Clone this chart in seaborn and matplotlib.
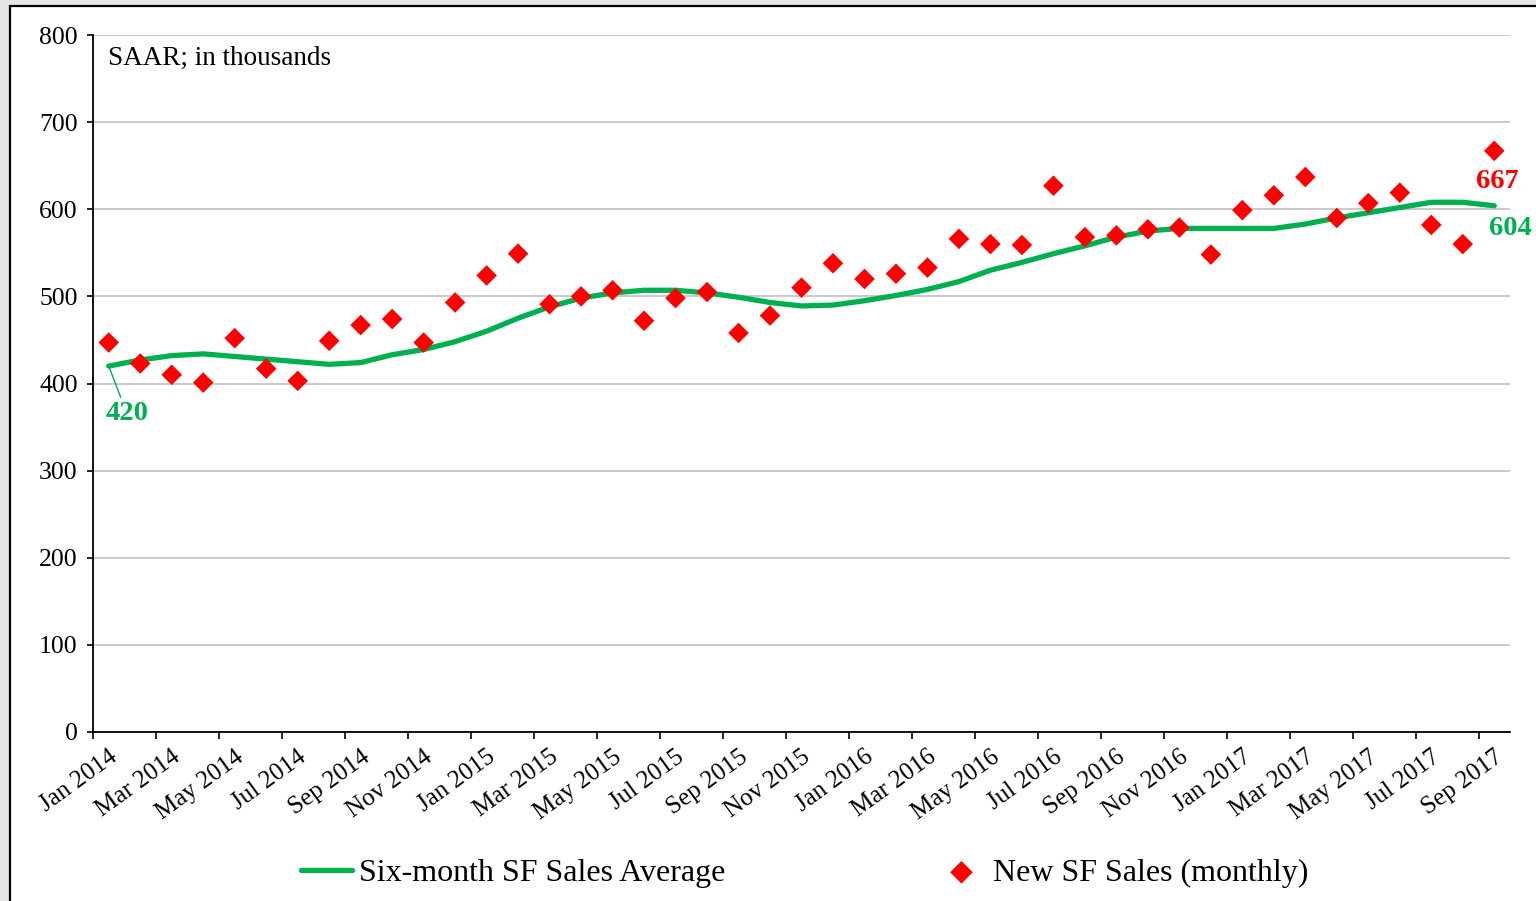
import numpy as np
import pandas as pd
import matplotlib
matplotlib.use("Agg")
import matplotlib.pyplot as plt
import matplotlib.transforms as mtransforms
import seaborn as sns
from matplotlib.patches import Rectangle

month_labels = [
    "Jan 2014", "Feb 2014", "Mar 2014", "Apr 2014", "May 2014", "Jun 2014",
    "Jul 2014", "Aug 2014", "Sep 2014", "Oct 2014", "Nov 2014", "Dec 2014",
    "Jan 2015", "Feb 2015", "Mar 2015", "Apr 2015", "May 2015", "Jun 2015",
    "Jul 2015", "Aug 2015", "Sep 2015", "Oct 2015", "Nov 2015", "Dec 2015",
    "Jan 2016", "Feb 2016", "Mar 2016", "Apr 2016", "May 2016", "Jun 2016",
    "Jul 2016", "Aug 2016", "Sep 2016", "Oct 2016", "Nov 2016", "Dec 2016",
    "Jan 2017", "Feb 2017", "Mar 2017", "Apr 2017", "May 2017", "Jun 2017",
    "Jul 2017", "Aug 2017", "Sep 2017",
]

new_sales = [
    447, 423, 410, 401, 452, 417, 403, 449, 467, 474, 447, 493,
    524, 549, 491, 500, 507, 472, 498, 505, 458, 478, 510, 538,
    520, 526, 533, 566, 560, 559, 627, 568, 570, 577, 579, 548,
    599, 616, 637, 590, 607, 619, 582, 560, 667,
]

six_month_avg = [
    420, 427, 432, 434, 431, 428, 425, 422, 424, 433, 439, 448,
    460, 475, 488, 498, 504, 507, 507, 504, 499, 493, 489, 490,
    495, 501, 508, 517, 530, 539, 549, 558, 568, 575, 578, 578,
    578, 578, 583, 590, 596, 602, 608, 608, 604,
]

y_ticks = [0, 100, 200, 300, 400, 500, 600, 700, 800]

GREEN = "#00B050"
RED = "#FF0000"

sns.set_theme(style="white")
plt.rcParams["font.family"] = ["Liberation Serif", "DejaVu Serif"]
plt.rcParams["text.color"] = "black"
plt.rcParams["xtick.color"] = "black"
plt.rcParams["ytick.color"] = "black"

W, H = 1536, 901
fig = plt.figure(figsize=(W / 100, H / 100), dpi=100, facecolor="#e6e6e6")
fig.patches.append(Rectangle((10 / W, -0.05), 1.2, 1 - 6 / H + 0.05,
                             transform=fig.transFigure, facecolor="white",
                             edgecolor="black", lw=1.6, zorder=-5))

ax = fig.add_axes([93 / W, 1 - 732 / H, (1510 - 93) / W, (732 - 35) / H])
ax.set_zorder(2)
ax.set_facecolor("white")

df = pd.DataFrame({
    "idx": np.arange(len(month_labels)),
    "month": month_labels,
    "avg": six_month_avg,
    "sales": new_sales,
})

sns.lineplot(data=df, x="idx", y="avg", color=GREEN, lw=3.8, ax=ax,
             label="Six-month SF Sales Average", zorder=3)
sns.scatterplot(data=df, x="idx", y="sales", marker="D", s=110, color=RED,
                edgecolor="none", linewidth=0, ax=ax,
                label="New SF Sales (monthly)", zorder=4)

ax.set_xlim(-0.5, len(month_labels) - 0.5)
ax.set_ylim(0, 800)
ax.set_yticks(y_ticks)
ax.set_yticklabels([str(v) for v in y_ticks], fontsize=18.5)
ax.yaxis.grid(True, color="#c0c0c0", lw=1.2)
ax.xaxis.grid(False)
ax.set_axisbelow(True)

ax.set_xticks(np.arange(-0.5, len(month_labels) - 0.5, 2))
ax.set_xticklabels([])
ax.set_xticks(np.arange(0, len(month_labels), 2), minor=True)
ax.set_xticklabels(month_labels[::2], minor=True, rotation=36, ha="right",
                   va="top", rotation_mode="anchor", fontsize=18)
shift = mtransforms.ScaledTranslation(-4 / 100, 0, fig.dpi_scale_trans)
for lbl in ax.get_xticklabels(minor=True):
    lbl.set_transform(lbl.get_transform() + shift)
ax.tick_params(axis="x", which="major", bottom=True, length=5, width=1.2,
               color="black", direction="out")
ax.tick_params(axis="x", which="minor", bottom=True, length=0, pad=10)
ax.tick_params(axis="y", which="major", left=True, length=4, width=1.2,
               color="black", direction="out", pad=7)
ax.set_xlabel("")
ax.set_ylabel("")

for side in ["top", "right"]:
    ax.spines[side].set_visible(False)
for side in ["left", "bottom"]:
    ax.spines[side].set_color("black")
    ax.spines[side].set_linewidth(1.3)

ax.text((108 - 93) / (1510 - 93), (732 - 58) / (732 - 35), "SAAR; in thousands",
        transform=ax.transAxes, ha="left", va="center", fontsize=19.5,
        color="black")

ax.annotate(f"{six_month_avg[0]}", xy=(0, six_month_avg[0]), xytext=(18, -47),
            textcoords="offset pixels", ha="center", va="center", color=GREEN,
            fontsize=20.5, fontweight="bold",
            arrowprops=dict(arrowstyle="-", color=GREEN, lw=1.0,
                            shrinkA=0, shrinkB=0))
ax.annotate(f"{six_month_avg[-1]}", xy=(len(month_labels) - 1, six_month_avg[-1]),
            xytext=(16, -23), textcoords="offset pixels", ha="center",
            va="center", color=GREEN, fontsize=20.5, fontweight="bold",
            annotation_clip=False)
ax.annotate(f"{new_sales[-1]}", xy=(len(month_labels) - 1, new_sales[-1]),
            xytext=(3, -31), textcoords="offset pixels", ha="center",
            va="center", color=RED, fontsize=20.5, fontweight="bold",
            annotation_clip=False)

handles, labels = ax.get_legend_handles_labels()
if ax.get_legend() is not None:
    ax.get_legend().remove()
leg = fig.legend(handles, labels, loc="center", bbox_to_anchor=(805 / W, 1 - 873 / H),
                 ncol=2, frameon=False, fontsize=23, handlelength=1.6,
                 handletextpad=0.2, columnspacing=6.6, markerscale=1.1)
for t in leg.get_texts():
    t.set_color("black")

fig.savefig("out.png", dpi=100, facecolor=fig.get_facecolor())
